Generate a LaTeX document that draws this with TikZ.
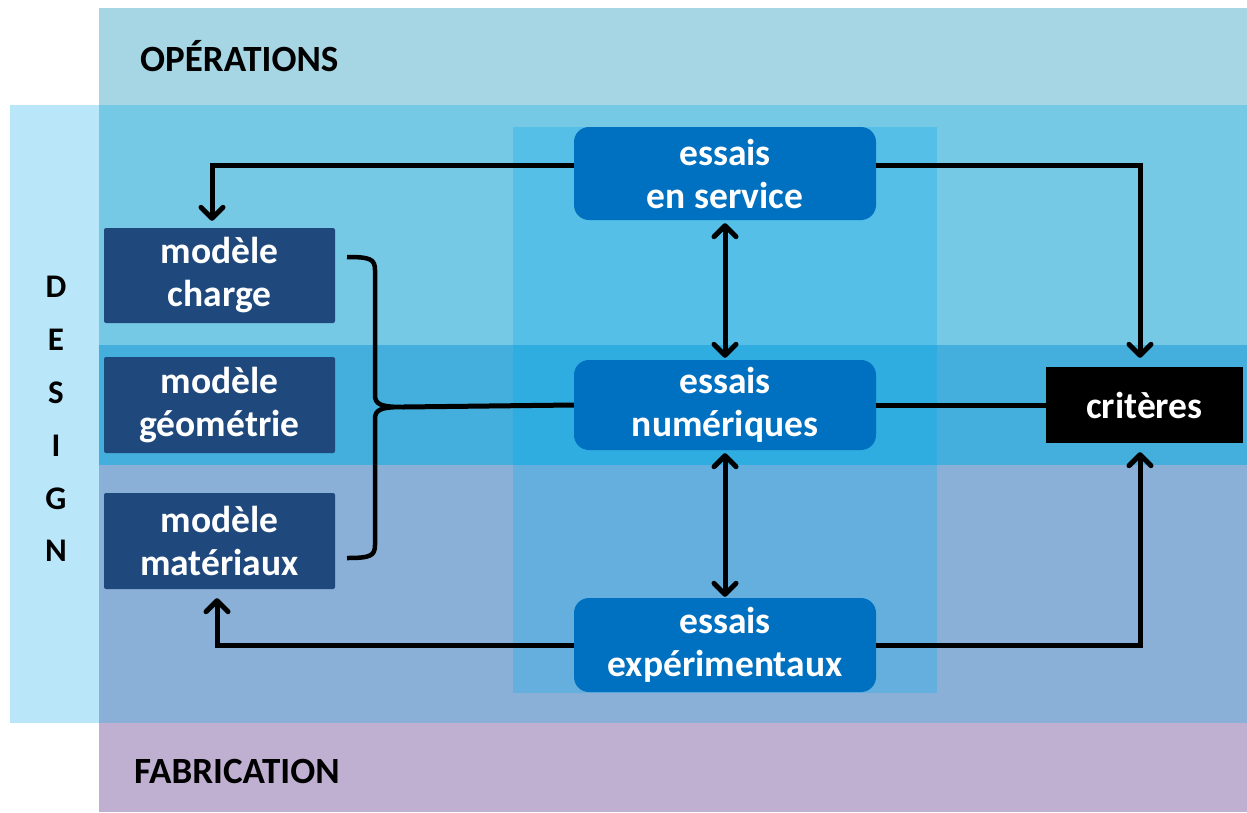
\documentclass[tikz,border=0pt]{standalone}
\usepackage{fontspec}
\setmainfont{Carlito}
\usetikzlibrary{arrows.meta}
\definecolor{opband}{HTML}{A6D5E3}
\definecolor{leftstrip}{HTML}{B9E7F9}
\definecolor{toppart}{HTML}{76C9E5}
\definecolor{midband}{HTML}{44AEDC}
\definecolor{botpart}{HTML}{8AB0D7}
\definecolor{fabband}{HTML}{BFB0D1}
\definecolor{coltop}{HTML}{55BFE7}
\definecolor{colmid}{HTML}{2FACE0}
\definecolor{colbot}{HTML}{64AFDD}
\definecolor{modelblue}{HTML}{1F497D}
\definecolor{essaisblue}{HTML}{0070C0}
\begin{document}
\begin{tikzpicture}[x=1pt,y=-1pt,
  txt/.style={font=\fontsize{37.5}{43}\selectfont\bfseries, align=center, text=white, inner sep=0pt},
  model/.style={txt, fill=modelblue, rounded corners=2pt, minimum width=231pt},
  essais/.style={txt, fill=essaisblue, rounded corners=15pt, minimum width=302pt},
  band/.style={font=\fontsize{37}{42}\selectfont\bfseries, anchor=west, inner sep=0pt},
  letter/.style={font=\fontsize{33}{38}\selectfont\bfseries, inner sep=0pt},
  arr/.style={line width=5pt, -{Straight Barb[length=11pt,width=22pt,line width=5pt,round]}},
  darr/.style={line width=5pt, {Straight Barb[length=11pt,width=22pt,line width=5pt,round]}-{Straight Barb[length=11pt,width=22pt,line width=5pt,round]}},
  conn/.style={line width=5pt}
]
\useasboundingbox (0,0) rectangle (1247,812);
% background bands
\fill[opband] (99,8) rectangle (1247,105);
\fill[leftstrip] (10,105) rectangle (99,723);
\fill[toppart] (99,105) rectangle (1247,345);
\fill[midband] (99,345) rectangle (1247,465);
\fill[botpart] (99,465) rectangle (1247,723);
\fill[fabband] (99,723) rectangle (1247,812);
% central column
\fill[coltop] (513,127) rectangle (937,345);
\fill[colmid] (513,345) rectangle (937,465);
\fill[colbot] (513,465) rectangle (937,693);
% band labels
\node[band] (ops) at (140,56) {OPÉRATIONS};
\node[band] (fab) at (134,771) {FABRICATION};
\node[letter] (d1) at (56,287) {D};
\node[letter] (d2) at (56,340) {E};
\node[letter] (d3) at (56,393) {S};
\node[letter] (d4) at (56,446) {I};
\node[letter] (d5) at (56,499) {G};
\node[letter] (d6) at (56,551) {N};
% nodes
\node[model, minimum height=95pt] (charge) at (219.5,275.5) {modèle\\charge};
\node[model, minimum height=96pt] (geom) at (219.5,405) {modèle\\géométrie};
\node[model, minimum height=96pt] (mat) at (219.5,541) {modèle\\matériaux};
\node[essais, minimum height=93pt] (service) at (725,173.5) {essais\\en service};
\node[essais, minimum height=90pt] (num) at (725,405) {essais\\numériques};
\node[essais, minimum height=94pt] (exp) at (725,645) {essais\\expérimentaux};
\node[txt, fill=black, minimum width=197pt, minimum height=76pt] (crit) at (1144.5,405) {critères};
% brace
\coordinate (btop) at (347,257);
\coordinate (bbot) at (347,558);
\coordinate (btip) at (403,407);
\draw[line width=4.5pt] (btop) .. controls (370,257) and (375,259) .. (375,270)
  -- (375,395) .. controls (375,404) and (380,407) .. (btip)
  .. controls (380,407) and (375,410) .. (375,419)
  -- (375,545) .. controls (375,556) and (370,558) .. (bbot);
\draw[conn] (btip) -- (num.west);
\draw[conn] (num.east) -- (crit.west);
% arrows
\draw[arr, shorten >=7pt] ([yshift=8.5pt]service.west) -| ([xshift=-7.5pt]charge.north);
\draw[arr, shorten >=9pt] ([yshift=8.5pt]service.east) -| ([xshift=-4.5pt]crit.north);
\draw[arr, shorten >=9pt] (exp.west) -| ([xshift=-2.5pt]mat.south);
\draw[arr, shorten >=9pt] (exp.east) -| ([xshift=-4.5pt]crit.south);
\draw[darr, shorten <=3pt, shorten >=2pt] (service.south) -- (num.north);
\draw[darr, shorten <=3pt, shorten >=1pt] (num.south) -- (exp.north);
\end{tikzpicture}
\end{document}
